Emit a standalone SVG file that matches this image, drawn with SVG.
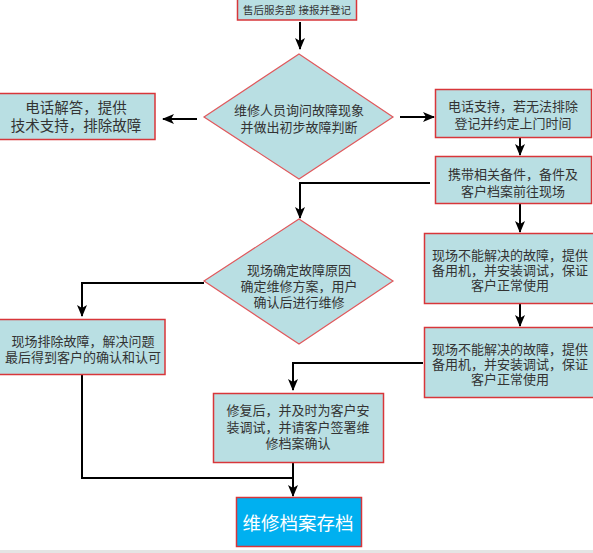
<svg xmlns="http://www.w3.org/2000/svg" width="593" height="553" viewBox="0 0 593 553">
<style>
.box{fill:#b9dfe3;stroke:#d8363a;stroke-width:1.5}
.dia{fill:#b9dfe3;stroke:#e0585c;stroke-width:1.2}
.t{font-family:"Liberation Sans","Noto Sans CJK SC","Noto Sans",sans-serif;font-size:13px;fill:#333;text-anchor:middle}
.ln{fill:none;stroke:#000;stroke-width:2}
</style>
<defs>
<marker id="ah" viewBox="0 0 12 12" refX="11" refY="6" markerWidth="12" markerHeight="12" markerUnits="userSpaceOnUse" orient="auto">
<path d="M0,1 L12,6 L0,11 L3,6 Z" fill="#000"/>
</marker>
</defs>
<rect x="0" y="550" width="593" height="3" fill="#e4e4e4"/>
<g id="connectors">
<line class="ln" x1="300" y1="22" x2="300" y2="49" marker-end="url(#ah)"/>
<line class="ln" x1="197" y1="119" x2="163" y2="119" marker-end="url(#ah)"/>
<line class="ln" x1="400" y1="117" x2="434" y2="117" marker-end="url(#ah)"/>
<line class="ln" x1="520" y1="138" x2="520" y2="155" marker-end="url(#ah)"/>
<polyline class="ln" points="430,183 300,183 300,218" marker-end="url(#ah)"/>
<line class="ln" x1="520" y1="204" x2="520" y2="232" marker-end="url(#ah)"/>
<polyline class="ln" points="204,283 82,283 82,316" marker-end="url(#ah)"/>
<line class="ln" x1="520" y1="304" x2="520" y2="326" marker-end="url(#ah)"/>
<polyline class="ln" points="423,363 293,363 293,390" marker-end="url(#ah)"/>
<polyline class="ln" points="82,375 82,478 293,478"/>
<line class="ln" x1="293" y1="462" x2="293" y2="496" marker-end="url(#ah)"/>
</g>
<g id="n-start">
<rect class="box" x="237.5" y="-1" width="119" height="21"/>
<text class="t" x="297" y="14" style="font-size:10.5px">售后服务部 接报并登记</text>
</g>
<g id="n-ask">
<polygon class="dia" points="299,54 393,117 299,179 204,117"/>
<text class="t" x="299" y="115">维修人员询问故障现象</text>
<text class="t" x="299" y="132">并做出初步故障判断</text>
</g>
<g id="n-phone">
<rect class="box" x="-1" y="93.5" width="156" height="46"/>
<text class="t" x="76" y="113" style="font-size:14.5px">电话解答，提供</text>
<text class="t" x="76" y="131" style="font-size:14.5px">技术支持，排除故障</text>
</g>
<g id="n-support">
<rect class="box" x="435.5" y="89.5" width="156" height="48"/>
<text class="t" x="513" y="111">电话支持，若无法排除</text>
<text class="t" x="513" y="128">登记并约定上门时间</text>
</g>
<g id="n-carry">
<rect class="box" x="435.5" y="156.5" width="156" height="47"/>
<text class="t" x="513" y="179">携带相关备件，备件及</text>
<text class="t" x="513" y="196">客户档案前往现场</text>
</g>
<g id="n-confirm">
<polygon class="dia" points="299,219 393,281 299,344 204,281"/>
<text class="t" x="299" y="275">现场确定故障原因</text>
<text class="t" x="299" y="291">确定维修方案，用户</text>
<text class="t" x="299" y="307">确认后进行维修</text>
</g>
<g id="n-fix">
<rect class="box" x="-1" y="319.5" width="166" height="55"/>
<text class="t" x="83" y="346">现场排除故障，解决问题</text>
<text class="t" x="83" y="362">最后得到客户的确认和认可</text>
</g>
<g id="n-backup1">
<rect class="box" x="424.5" y="233.5" width="170" height="70"/>
<text class="t" x="510" y="259.5">现场不能解决的故障，提供</text>
<text class="t" x="510" y="274.5">备用机，并安装调试，保证</text>
<text class="t" x="510" y="289.5">客户正常使用</text>
</g>
<g id="n-backup2">
<rect class="box" x="424.5" y="327.5" width="170" height="70"/>
<text class="t" x="510" y="353.5">现场不能解决的故障，提供</text>
<text class="t" x="510" y="368.5">备用机，并安装调试，保证</text>
<text class="t" x="510" y="383.5">客户正常使用</text>
</g>
<g id="n-repair">
<rect class="box" x="213.5" y="393.5" width="170" height="69"/>
<text class="t" x="298" y="415">修复后，并及时为客户安</text>
<text class="t" x="298" y="432">装调试，并请客户签署维</text>
<text class="t" x="298" y="448">修档案确认</text>
</g>
<g id="n-archive">
<rect x="236.5" y="497.5" width="125" height="49" fill="#00b0f0" stroke="#d8363a" stroke-width="1.5"/>
<text class="t" x="298" y="530" style="font-size:18.5px;fill:#fff">维修档案存档</text>
</g>
</svg>
